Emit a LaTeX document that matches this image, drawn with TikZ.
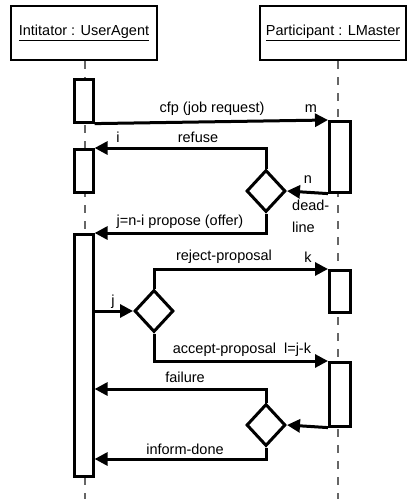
\documentclass[tikz,border=0pt]{standalone}
\usepackage{fontspec}
\setmainfont{Liberation Sans}
\usetikzlibrary{arrows.meta,shapes.geometric}
\begin{document}
\begin{tikzpicture}[x=1pt,y=-1pt,
  headbox/.style={draw,line width=2.4pt,minimum width=146pt,minimum height=54pt,inner sep=0pt,font=\fontsize{14.5}{16}\selectfont},
  act/.style={draw,line width=2.6pt,fill=white,inner sep=0pt,anchor=north west},
  msg/.style={line width=3pt,-{Triangle[length=13pt,width=13pt]}},
  lifeline/.style={draw=black!60,line width=1.1pt,dash pattern=on 8pt off 8pt},
  lbl/.style={font=\fontsize{14.5}{16}\selectfont,inner sep=0pt},
  dec/.style={diamond,draw,line width=3pt,fill=white,minimum width=39pt,minimum height=42pt,inner sep=0pt}]
\useasboundingbox (0,0) rectangle (409,499);
\fill[white] (0,0) rectangle (409,499);

% heads
\node[headbox] (hL) at (84,33) {\underline{Intitator : UserAgent}};
\node[headbox] (hR) at (333,33) {\underline{Participant : LMaster}};

% lifelines
\coordinate (lLend) at (85,499);
\coordinate (lRend) at (338,499);
\draw[lifeline] (hL.south -| lLend) -- (lLend);
\draw[lifeline] (hR.south -| lRend) -- (lRend);

% activations
\node[act,minimum width=19pt,minimum height=43pt] (a1) at (73,78) {};
\node[act,minimum width=19pt,minimum height=43pt] (a2) at (73,148) {};
\node[act,minimum width=19pt,minimum height=242pt] (a3) at (73,233) {};
\node[act,minimum width=21pt,minimum height=71pt] (b1) at (328,120) {};
\node[act,minimum width=21pt,minimum height=42pt] (b2) at (328,269) {};
\node[act,minimum width=21pt,minimum height=64pt] (b3) at (328,361) {};

% decisions
\node[dec] (d1) at (266,191) {};
\node[dec] (d2) at (154,311) {};
\node[dec] (d3) at (266,425) {};

\coordinate (fy) at (0,389);
\coordinate (iy) at (0,459);

% messages
\draw[msg] (a1.south east) -- (b1.north west);
\draw[msg] (b1.south west) -- (d1.east);
\draw[msg] (d1.north) |- (a2.north east);
\draw[msg] (d1.south) |- (a3.north east);
\draw[msg] (a3.east |- d2) -- (d2.west);
\draw[msg] (d2.north) |- (b2.north west);
\draw[msg] (d2.south) |- (b3.north west);
\draw[msg] (b3.south west) -- (d3.east);
\draw[msg] (d3.north) |- (a3.east |- fy);
\draw[msg] (d3.south) |- (a3.east |- iy);

% labels
\node[lbl] (t1) at (212,109) {cfp (job request)};
\node[lbl] (t2) at (311,109) {m};
\node[lbl] (t3) at (118,137) {i};
\node[lbl] (t4) at (198,137) {refuse};
\node[lbl] (t5) at (308,180) {n};
\node[lbl,anchor=north west,align=left,font=\fontsize{14.5}{22}\selectfont] (t6) at (292,200) {dead-\\line};
\node[lbl] (t7) at (180,222) {j=n-i propose (offer)};
\node[lbl] (t8) at (224,257) {reject-proposal};
\node[lbl] (t9) at (308,257) {k};
\node[lbl] (t10) at (113,302) {j};
\node[lbl] (t11) at (242,350) {accept-proposal\ \ l=j-k};
\node[lbl] (t12) at (185,377) {failure};
\node[lbl] (t13) at (185,449) {inform-done};
\end{tikzpicture}
\end{document}
